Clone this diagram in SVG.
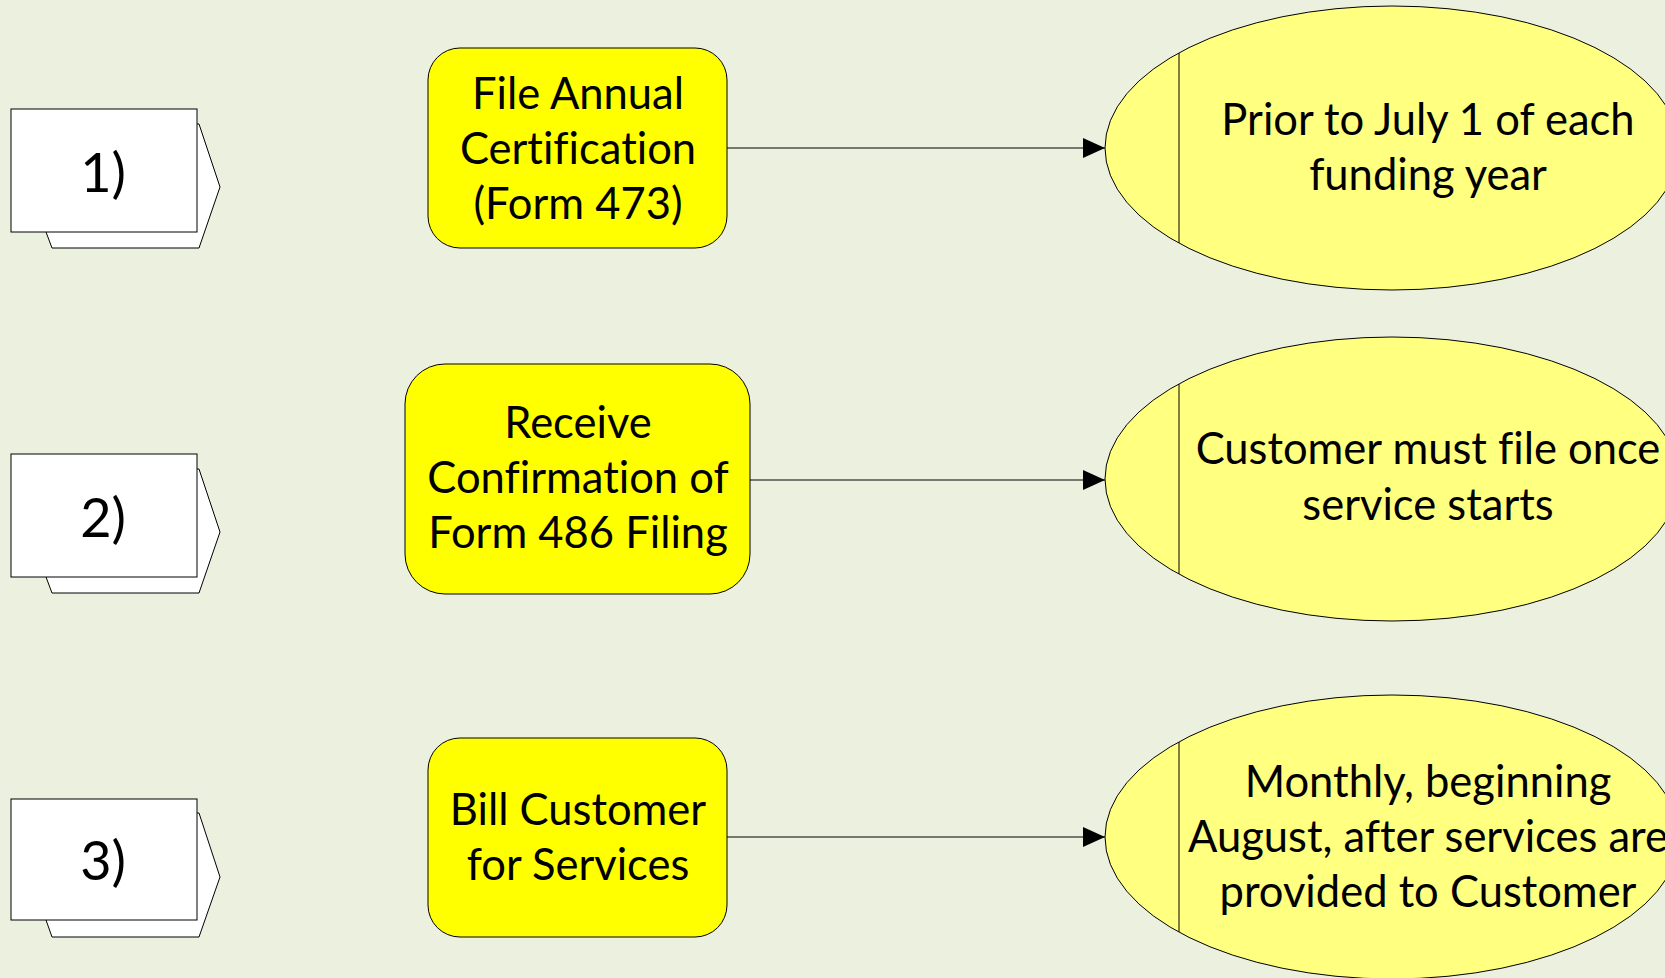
<svg xmlns="http://www.w3.org/2000/svg" width="1665" height="978" viewBox="0 0 1665 978">
<defs>
<style>
.bg{fill:#EBF1DE}
.page{fill:#FFFFFF;stroke:#000;stroke-width:1}
.box{fill:#FFFF00;stroke:#000;stroke-width:1}
.ell{fill:#FFFF80;stroke:#000;stroke-width:1}
.div{stroke:#000;stroke-width:1;fill:none}
.conn{stroke:#000;stroke-width:1.2;fill:none}
text{font-family:Lato,"Open Sans","Liberation Sans",sans-serif;font-size:43.5px;fill:#000;text-anchor:middle;font-variant-ligatures:none;font-feature-settings:"liga" 0}
.num{font-size:54px}
</style>
<marker id="arr" viewBox="0 0 22 20" refX="22" refY="10" markerWidth="22" markerHeight="20" markerUnits="userSpaceOnUse" orient="auto">
<path d="M0,0 L22,10 L0,20 Z" fill="#000"/>
</marker>
</defs>
<rect class="bg" x="0" y="0" width="1665" height="978"/>

<g id="step1">
<polygon class="page" points="46,124 199,124 220,187 199,248 52,248 46,232"/>
<rect class="page" x="11" y="109" width="186" height="123"/>
<text class="num" x="103" y="192">1)</text>
</g>
<g id="step2">
<polygon class="page" points="46,469 199,469 220,532 199,593 52,593 46,577"/>
<rect class="page" x="11" y="454" width="186" height="123"/>
<text class="num" x="103" y="537">2)</text>
</g>
<g id="step3">
<polygon class="page" points="46,813 199,813 220,877 199,937 52,937 46,920"/>
<rect class="page" x="11" y="799" width="186" height="121"/>
<text class="num" x="103" y="880">3)</text>
</g>

<g id="task1">
<rect class="box" x="428" y="48" width="299" height="200" rx="32" ry="32"/>
<text x="578" y="109">File Annual</text>
<text x="578" y="164">Certification</text>
<text x="578" y="219">(Form 473)</text>
</g>
<g id="task2">
<rect class="box" x="405" y="364" width="345" height="230" rx="40" ry="40"/>
<text x="578" y="438">Receive</text>
<text x="578" y="493">Confirmation of</text>
<text x="578" y="548">Form 486 Filing</text>
</g>
<g id="task3">
<rect class="box" x="428" y="738" width="299" height="199" rx="32" ry="32"/>
<text x="578" y="825">Bill Customer</text>
<text x="578" y="880">for Services</text>
</g>

<g id="timing1">
<ellipse class="ell" cx="1392" cy="148" rx="287" ry="142"/>
<line class="div" x1="1179" y1="53" x2="1179" y2="243"/>
<text x="1428" y="135">Prior to July 1 of each</text>
<text x="1428" y="190">funding year</text>
</g>
<g id="timing2">
<ellipse class="ell" cx="1392" cy="479" rx="287" ry="142"/>
<line class="div" x1="1179" y1="384" x2="1179" y2="574"/>
<text x="1428" y="464">Customer must file once</text>
<text x="1428" y="520">service starts</text>
</g>
<g id="timing3">
<ellipse class="ell" cx="1392" cy="837" rx="287" ry="142"/>
<line class="div" x1="1179" y1="742" x2="1179" y2="932"/>
<text x="1428" y="797">Monthly, beginning</text>
<text x="1428" y="852">August, after services are</text>
<text x="1428" y="907">provided to Customer</text>
</g>

<g id="connectors">
<line class="conn" x1="727" y1="148" x2="1105" y2="148" marker-end="url(#arr)"/>
<line class="conn" x1="750" y1="480" x2="1105" y2="480" marker-end="url(#arr)"/>
<line class="conn" x1="727" y1="837" x2="1105" y2="837" marker-end="url(#arr)"/>
</g>
</svg>
